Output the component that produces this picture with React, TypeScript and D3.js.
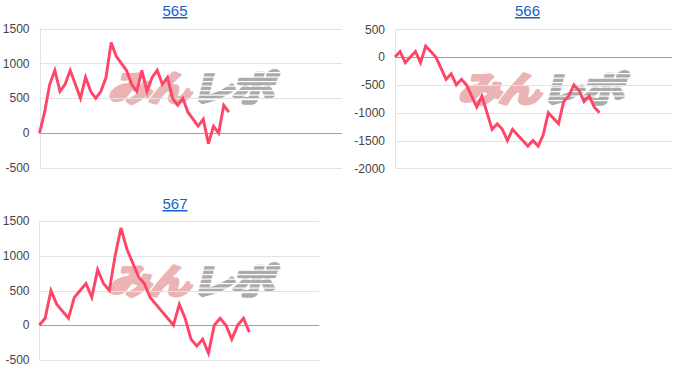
import React from "react";
import * as d3 from "d3";

const titles = ["565", "566", "567"];

const values565 = [0, 300, 700, 900, 600, 700, 900, 700, 500, 800, 600, 500, 600, 800, 1300, 1100, 1000, 900, 700, 600, 900, 600, 800, 900, 700, 800, 500, 400, 500, 300, 200, 100, 200, -150, 100, 0, 400, 300];
const values566 = [0, 100, -100, 0, 100, -100, 200, 100, 0, -200, -400, -300, -500, -400, -500, -700, -900, -700, -1000, -1300, -1200, -1300, -1500, -1300, -1400, -1500, -1600, -1500, -1600, -1400, -1000, -1100, -1200, -800, -700, -500, -600, -800, -700, -900, -1000];
const values567 = [0, 100, 500, 300, 200, 100, 400, 500, 600, 400, 800, 600, 500, 1000, 1400, 1100, 900, 700, 600, 400, 300, 200, 100, 0, 300, 100, -200, -300, -200, -400, 0, 100, 0, -200, 0, 100, -100];

const ticks565 = [1500, 1000, 500, 0, -500];
const ticks566 = [500, 0, -500, -1000, -1500, -2000];
const ticks567 = [1500, 1000, 500, 0, -500];

const slots565 = 59.1;
const slots566 = 54.2;
const slots567 = 48;

const LINE = "#ff4466";

type Cfg = {
  title: string;
  values: number[];
  ticks: number[];
  slots: number;
  x0: number;
  x1: number;
  yTop: number;
  yBot: number;
  titleX: number;
  titleY: number;
  labelX: number;
  wmX: number;
  wmY: number;
};

const charts: Cfg[] = [
  { title: titles[0], values: values565, ticks: ticks565, slots: slots565, x0: 39.5, x1: 342, yTop: 28.5, yBot: 168, titleX: 175, titleY: 16, labelX: 29.5, wmX: 108, wmY: 101 },
  { title: titles[1], values: values566, ticks: ticks566, slots: slots566, x0: 395, x1: 672, yTop: 29.3, yBot: 168.3, titleX: 527.5, titleY: 16, labelX: 385, wmX: 458, wmY: 102 },
  { title: titles[2], values: values567, ticks: ticks567, slots: slots567, x0: 39.3, x1: 319.3, yTop: 221, yBot: 360, titleX: 175, titleY: 209, labelX: 29.5, wmX: 108, wmY: 294 },
];

function Watermark({ x, y, id }: { x: number; y: number; id: string }) {
  const stripes = d3.range(0, 30, 4.5);
  const common = {
    fontFamily: "'Noto Sans CJK JP', 'Noto Sans', sans-serif",
    fontWeight: 700,
    fontSize: 35,
    strokeWidth: 3.4,
    strokeLinejoin: "round" as const,
    letterSpacing: -2,
  };
  return (
    <g>
      <defs>
        <clipPath id={id}>
          <rect x={x + 82} y={y - 34} width={95} height={38} />
        </clipPath>
      </defs>
      <g transform={`translate(${x},${y}) skewX(-14) scale(1.22,1)`}>
        <text x={0} y={0} fill="#eab4b4" stroke="#eab4b4" {...common}>
          みん
        </text>
        <text x={68} y={0} fill="#ababab" stroke="#ababab" {...common}>
          レポ
        </text>
      </g>
      <g clipPath={`url(#${id})`}>
        {stripes.map((s, i) => (
          <rect key={i} x={x + 82 + (i % 2) * 8} y={y - 29 + s} width={95} height={1.2} fill="#fff" />
        ))}
      </g>
    </g>
  );
}

function Chart({ c, idx }: { c: Cfg; idx: number }) {
  const ext = d3.extent(c.ticks) as [number, number];
  const y = d3.scaleLinear().domain(ext).range([c.yBot, c.yTop]);
  const x = d3.scaleLinear().domain([0, c.slots]).range([c.x0, c.x1]);
  const line = d3
    .line<number>()
    .x((_, i) => x(i))
    .y((d) => y(d));
  return (
    <g>
      <text
        x={c.titleX}
        y={c.titleY}
        textAnchor="middle"
        fontFamily="Arial, 'Liberation Sans', sans-serif"
        fontSize={15}
        fill="#1560c8"
        textDecoration="underline"
      >
        {c.title}
      </text>
      <Watermark x={c.wmX} y={c.wmY} id={`wm${idx}`} />
      {c.ticks.map((t) => (
        <g key={t}>
          <line
            x1={c.x0}
            x2={c.x1}
            y1={Math.round(y(t)) + 0.5}
            y2={Math.round(y(t)) + 0.5}
            stroke={t === 0 ? "#9e9e9e" : "#e2e2e2"}
            strokeWidth={1}
          />
          <text
            x={c.labelX}
            y={y(t)}
            dy="0.35em"
            textAnchor="end"
            fontFamily="Arial, 'Liberation Sans', sans-serif"
            fontSize={12}
            fill="#444"
          >
            {t}
          </text>
        </g>
      ))}
      <line x1={Math.round(c.x0) + 0.5} x2={Math.round(c.x0) + 0.5} y1={c.yTop} y2={c.yBot} stroke="#e2e2e2" />
      <path d={line(c.values) || ""} fill="none" stroke={LINE} strokeWidth={2.9} strokeLinejoin="miter" />
    </g>
  );
}

export default function App() {
  return (
    <svg
      width={700}
      height={384}
      style={{ position: "absolute", left: 0, top: 0, background: "#fff" }}
    >
      <rect width={700} height={384} fill="#fff" />
      {charts.map((c, i) => (
        <Chart key={c.title} c={c} idx={i} />
      ))}
    </svg>
  );
}
